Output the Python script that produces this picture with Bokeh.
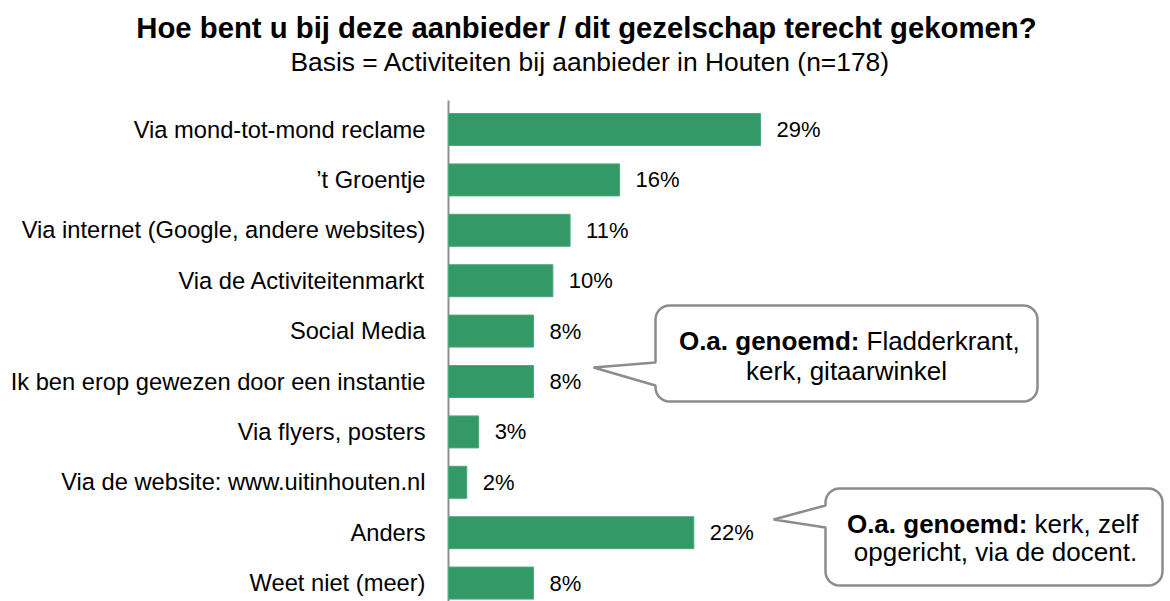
import math
from bokeh.plotting import figure
from bokeh.models import Range1d, ColumnDataSource
from bokeh.core.properties import value
from bokeh.embed import file_html
from bokeh.resources import INLINE

# ---------------- data ----------------
categories = [
    "Via mond-tot-mond reclame",
    "\u2019t Groentje",
    "Via internet (Google, andere websites)",
    "Via de Activiteitenmarkt",
    "Social Media",
    "Ik ben erop gewezen door een instantie",
    "Via flyers, posters",
    "Via de website: www.uitinhouten.nl",
    "Anders",
    "Weet niet (meer)",
]
values = [29.0, 15.9, 11.3, 9.7, 7.9, 7.9, 2.8, 1.7, 22.8, 7.9]
value_labels = ["29%", "16%", "11%", "10%", "8%", "8%", "3%", "2%", "22%", "8%"]

title_text = "Hoe bent u bij deze aanbieder / dit gezelschap  terecht gekomen?"
subtitle_text = "Basis = Activiteiten bij aanbieder in Houten (n=178)"

callout1_bold = "O.a. genoemd:"
callout1_line1 = "Fladderkrant,"
callout1_line2 = "kerk, gitaarwinkel"
callout2_bold = "O.a. genoemd:"
callout2_line1 = "kerk, zelf"
callout2_line2 = "opgericht, via de docent."

# ---------------- geometry ----------------
FONT = "Liberation Sans"
W, H = 1170, 601
AX = 448              # px where the value axis starts
PX_PER = 10.76        # px per percent
ROW = 50.4            # px per category row
C0 = 129.0            # px of the first row centre


def X(px):
    return (px - AX) / PX_PER


def Y(py):
    return (py - C0) / ROW


p = figure(width=W, height=H,
           x_range=Range1d(X(0), X(W)), y_range=Range1d(Y(H), Y(0)),
           output_backend="svg", toolbar_location=None,
           x_axis_location=None, y_axis_location=None,
           min_border_left=0, min_border_right=0,
           min_border_top=0, min_border_bottom=0)
p.outline_line_color = None
p.xgrid.visible = False
p.ygrid.visible = False
p.background_fill_color = "white"
p.border_fill_color = "white"

idx = list(range(len(categories)))
src = ColumnDataSource(dict(y=idx, v=values, lab=value_labels, cat=categories))

# axis line
p.segment(x0=[0], y0=[Y(100)], x1=[0], y1=[Y(H)],
          line_color="#8f8f8f", line_width=2)

# bars
p.hbar(y="y", left=0, right="v", height=32 / ROW, source=src,
       fill_color="#339966", line_color="#4fa77b", line_width=1)

# category labels
p.text(x=0, y="y", text="cat", source=src, x_offset=-23,
       text_align="right", text_baseline="middle",
       text_font=value(FONT), text_font_size="23.7px", text_color="#000000")

# value labels
p.text(x="v", y="y", text="lab", source=src, x_offset=16,
       text_align="left", text_baseline="middle",
       text_font=value(FONT), text_font_size="22px", text_color="#000000")


def txt(x, y, text, align, size, bold=False):
    p.text(x=[X(x)], y=[Y(y)], text=[text], text_align=align,
           text_baseline="middle", text_font=value(FONT),
           text_font_size=size,
           text_font_style="bold" if bold else "normal",
           text_color="#000000")


# title & subtitle
txt(590, 27, title_text, "center", "29.3px", True)
txt(590, 61, subtitle_text, "center", "26.4px")


# callouts
def callout(l, t, r, b, rad, ptop, pbot, tip):
    pts = []
    n = 8

    def arc(cx, cy, a0, a1):
        for k in range(n + 1):
            a = math.radians(a0 + (a1 - a0) * k / n)
            pts.append((cx + rad * math.cos(a), cy + rad * math.sin(a)))

    arc(r - rad, t + rad, -90, 0)
    arc(r - rad, b - rad, 0, 90)
    arc(l + rad, b - rad, 90, 180)
    pts.append((l, pbot))
    pts.append(tip)
    pts.append((l, ptop))
    arc(l + rad, t + rad, 180, 270)
    xs = [X(px) for px, py in pts]
    ys = [Y(py) for px, py in pts]
    p.patch(xs, ys, fill_color="white", line_color="#8c8c8c", line_width=2.5)


callout(655, 305, 1037, 401, 14, 362, 385, (593, 367))
callout(825, 488, 1162, 585, 14, 505, 527, (773, 519))

txt(859, 340, callout1_bold, "right", "26px", True)
txt(866, 340, callout1_line1, "left", "26px")
txt(846, 370, callout1_line2, "center", "26px")
txt(1027, 523, callout2_bold, "right", "26px", True)
txt(1034, 523, callout2_line1, "left", "26px")
txt(995, 551, callout2_line2, "center", "26px")

open("out.html", "w").write(file_html(p, INLINE))
